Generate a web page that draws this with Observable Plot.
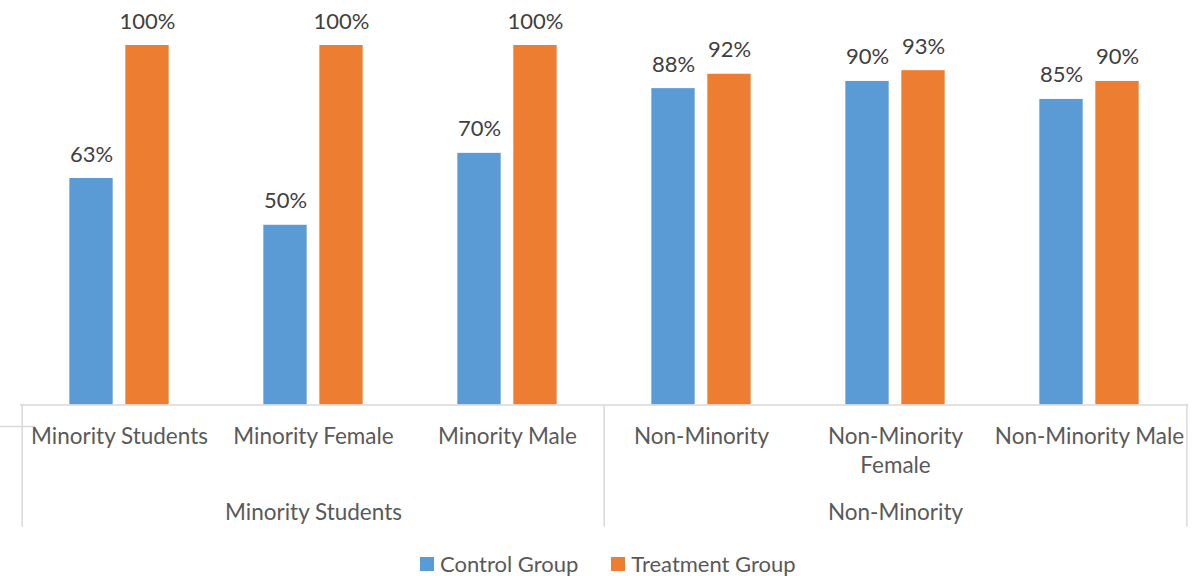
<!DOCTYPE html>
<html>
<head>
<meta charset="utf-8">
<script src="https://cdn.jsdelivr.net/npm/d3@7"></script>
<script src="https://cdn.jsdelivr.net/npm/@observablehq/plot@0.6"></script>
<style>
  html, body { margin: 0; padding: 0; background: #fff; }
  #chart { width: 1202px; height: 576px; position: relative; font-family: Lato, "Open Sans", sans-serif; }
  #legend { position: absolute; top: 550px; left: 420px; display: flex; align-items: center; font-size: 22px; color: #595959; white-space: nowrap; }
  .item { display: flex; align-items: center; margin-right: 33px; }
  .sw { width: 14px; height: 14px; margin-right: 6px; }
</style>
</head>
<body>
<div id="chart"></div>
<script>
const categories = ["Minority Students", "Minority Female", "Minority Male", "Non-Minority", "Non-Minority Female", "Non-Minority Male"];
const categoryLabels = ["Minority Students", "Minority Female", "Minority Male", "Non-Minority", "Non-Minority\nFemale", "Non-Minority Male"];
const controlValues = [0.63, 0.50, 0.70, 0.88, 0.90, 0.85];
const treatmentValues = [1.00, 1.00, 1.00, 0.92, 0.93, 0.90];
const groupNames = ["Minority Students", "Non-Minority"];
const groupCenters = ["Minority Female", "Non-Minority Female"];
const seriesNames = ["Control Group", "Treatment Group"];
const colors = ["#5B9BD5", "#ED7D31"];

const W = 1202, H = 540, mL = 20, mR = 14, mT = 45, mB = 135.5;
const step = (W - mL - mR) / categories.length;
const barW = 44, half = 28;
const inset = (step - barW) / 2;
const font = "Lato, 'Open Sans', sans-serif";

const control = categories.map((c, i) => ({cat: c, v: controlValues[i]}));
const treatment = categories.map((c, i) => ({cat: c, v: treatmentValues[i]}));
const labels = categories.map((c, i) => ({cat: c, label: categoryLabels[i]}));
const groups = groupNames.map((g, i) => ({cat: groupCenters[i], label: g}));
const pct = d => Math.round(d.v * 100) + "%";
const axisColor = "#d9d9d9";

const plot = Plot.plot({
  width: W, height: H,
  marginLeft: mL, marginRight: mR, marginTop: mT, marginBottom: mB,
  style: {fontFamily: font, background: "#fff", overflow: "visible"},
  x: {type: "band", domain: categories, padding: 0, axis: null},
  y: {domain: [0, 1], axis: null},
  marks: [
    Plot.barY(control, {x: "cat", y: "v", fill: colors[0], insetLeft: inset, insetRight: inset, dx: -half}),
    Plot.barY(treatment, {x: "cat", y: "v", fill: colors[1], insetLeft: inset, insetRight: inset, dx: half}),
    Plot.text(control, {x: "cat", y: "v", text: pct, dx: -half, dy: -17, lineAnchor: "bottom", fontSize: 22, fill: "#404040"}),
    Plot.text(treatment, {x: "cat", y: "v", text: pct, dx: half, dy: -17, lineAnchor: "bottom", fontSize: 22, fill: "#404040"}),
    Plot.ruleY([0], {stroke: axisColor, strokeWidth: 1.5}),
    Plot.ruleY([-0.06], {stroke: axisColor, strokeWidth: 1.5, insetLeft: -20, insetRight: W - mL - mR - 15}),
    Plot.ruleX([categories[0], categories[3]], {x: d => d, y1: 0, y2: -0.34, dx: -step / 2, stroke: axisColor, strokeWidth: 1.5}),
    Plot.ruleX([categories[5]], {x: d => d, y1: 0, y2: -0.34, dx: step / 2, stroke: axisColor, strokeWidth: 1.5}),
    Plot.text(labels, {x: "cat", text: "label", frameAnchor: "bottom", lineAnchor: "top", dy: 18.5, fontSize: 22.5, lineHeight: 1.29, fill: "#595959"}),
    Plot.text(groups, {x: "cat", text: "label", frameAnchor: "bottom", lineAnchor: "top", dy: 99, fontSize: 22.5, fill: "#595959"})
  ]
});
const chart = document.getElementById("chart");
chart.appendChild(plot);

const legend = document.createElement("div");
legend.id = "legend";
seriesNames.forEach((s, i) => {
  const item = document.createElement("div");
  item.className = "item";
  const sw = document.createElement("div");
  sw.className = "sw";
  sw.style.background = colors[i];
  const t = document.createElement("span");
  t.textContent = s;
  item.appendChild(sw);
  item.appendChild(t);
  legend.appendChild(item);
});
chart.appendChild(legend);
</script>
</body>
</html>
